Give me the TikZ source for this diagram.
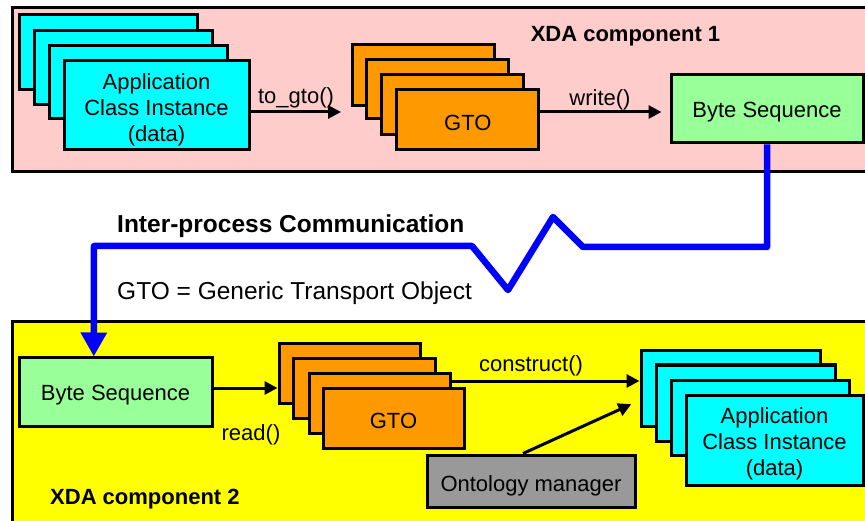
\documentclass[tikz,border=0pt]{standalone}
\usepackage{fontspec}
\setmainfont{Liberation Sans}
\usetikzlibrary{arrows.meta,fit}
\definecolor{zonepink}{HTML}{FFCCCC}
\definecolor{zoneyellow}{HTML}{FFFF00}
\definecolor{appcyan}{HTML}{00FFFF}
\definecolor{gtoorange}{HTML}{FF9900}
\definecolor{bytegreen}{HTML}{99FF99}
\definecolor{ontogray}{HTML}{999999}
\definecolor{ipcblue}{HTML}{0000FF}
\begin{document}
\begin{tikzpicture}[x=1pt,y=-1pt,
  box/.style={draw=black, line width=3pt, inner sep=0pt},
  appbox/.style={box, fill=appcyan},
  gtobox/.style={box, fill=gtoorange},
  bytebox/.style={box, fill=bytegreen},
  ontobox/.style={box, fill=ontogray},
  boxtext/.style={inner sep=0pt, align=center, yshift=-3pt, font=\fontsize{22}{26}\selectfont},
  zone/.style={draw=black, line width=3pt, inner sep=0pt},
  flow/.style={line width=3pt, -{Triangle[length=13pt,width=13pt]}},
  ipc/.style={draw=ipcblue, line width=6.5pt, line join=round,
              -{Triangle[length=24pt,width=25pt]}},
  lbl/.style={font=\fontsize{22}{26}\selectfont, inner sep=0pt, yshift=-3pt},
  title/.style={font=\bfseries\fontsize{22}{26}\selectfont, inner sep=0pt, yshift=-3pt},
  note/.style={font=\fontsize{24.5}{29}\selectfont, inner sep=0pt, anchor=west, yshift=-3pt}]

\useasboundingbox (0,0) rectangle (865,521);
\clip (0,0) rectangle (865,521);
\fill[white] (0,0) rectangle (865,521);

% the two components
\node[zone, fill=zonepink,   fit={(12,8) (890,172)}]   (zone1) {};
\node[zone, fill=zoneyellow, fit={(12,322) (890,540)}] (zone2) {};

% component 1: application objects
\node[appbox, fit={(19,15) (197,90)}]   (ta1) {};
\node[appbox, fit={(34,31) (212,105)}]  (ta2) {};
\node[appbox, fit={(49,46) (227,119)}]  (ta3) {};
\node[appbox, fit={(64,61) (249,150)}]  (ta4) {};
\node[boxtext] (ta4t) at ([yshift=-1pt]ta4.center) {Application\\Class Instance\\(data)};

% component 1: transport objects
\node[gtobox, fit={(352.5,45) (494.4,106)}]  (tg1) {};
\node[gtobox, fit={(366.8,60) (508.8,119)}]  (tg2) {};
\node[gtobox, fit={(381.9,75) (523.8,135)}]  (tg3) {};
\node[gtobox, fit={(396.9,90) (538.8,150)}]  (tg4) {};
\node[boxtext] (tg4t) at (tg4.center) {GTO};

\node[bytebox, fit={(671,75) (863,143)}] (bs1) {};
\node[boxtext] (bs1t) at (bs1.center) {Byte Sequence};

% component 2
\node[bytebox, fit={(19,358) (212,426)}] (bs2) {};
\node[boxtext] (bs2t) at (bs2.center) {Byte Sequence};

\node[gtobox, fit={(279,344) (420,403)}] (bg1) {};
\node[gtobox, fit={(293,359) (435,418)}] (bg2) {};
\node[gtobox, fit={(309,373) (450,433)}] (bg3) {};
\node[gtobox, fit={(323,388) (464,448)}] (bg4) {};
\node[boxtext] (bg4t) at (bg4.center) {GTO};

\node[appbox, fit={(641,351) (820,426)}] (ca1) {};
\node[appbox, fit={(656,365) (835,441)}] (ca2) {};
\node[appbox, fit={(671,380) (849,455)}] (ca3) {};
\node[appbox, fit={(686,395) (863,485)}] (ca4) {};
\node[boxtext] (ca4t) at ([yshift=-1pt]ca4.center) {Application\\Class Instance\\(data)};

\node[ontobox, fit={(427,455) (635,507)}] (om) {};
\node[boxtext] (omt) at ([yshift=-2pt]om.center) {Ontology manager};

% calls
\draw[flow, shorten >=10pt] ([yshift=-6.5pt]ta4.east) -- ([yshift=-6.5pt]ta4.east -| tg1.west);
\draw[flow, shorten >=8pt] ([yshift=8pt]tg4.east) -- ([yshift=8pt]tg4.east -| bs1.west);
\draw[flow] ([yshift=4pt]bs2.east) -- ([yshift=4pt]bs2.east -| bg1.west);
\draw[flow] ([yshift=22pt]bg3.east) -- ([yshift=22pt]bg3.east -| ca1.west);
\draw[flow, shorten >=9pt] ([xshift=-8pt]om.north) -- ([yshift=-12pt]ca1.west);

\node[lbl] (lto)   at (296,95)  {to\_gto()};
\node[lbl] (lwr)   at (600,97)  {write()};
\node[lbl] (lrd)   at (251,432) {read()};
\node[lbl] (lcon)  at (531,363) {construct()};

% inter-process link
\draw[ipc] (bs1.south) -- (767,247) -- (583,247) -- (553,217) -- (508,290)
  -- (472,246) -- (94,246) -- ([xshift=-21.7pt]bs2.north);

\node[note, font=\bfseries\fontsize{24.5}{29}\selectfont] (ipcl) at (117,223) {Inter-process Communication};
\node[note] (gtol) at (117,290) {GTO = Generic Transport Object};

\node[title] (t1) at (625.5,33) {XDA component 1};
\node[title, anchor=west] (t2) at (50,496) {XDA component 2};
\end{tikzpicture}
\end{document}
